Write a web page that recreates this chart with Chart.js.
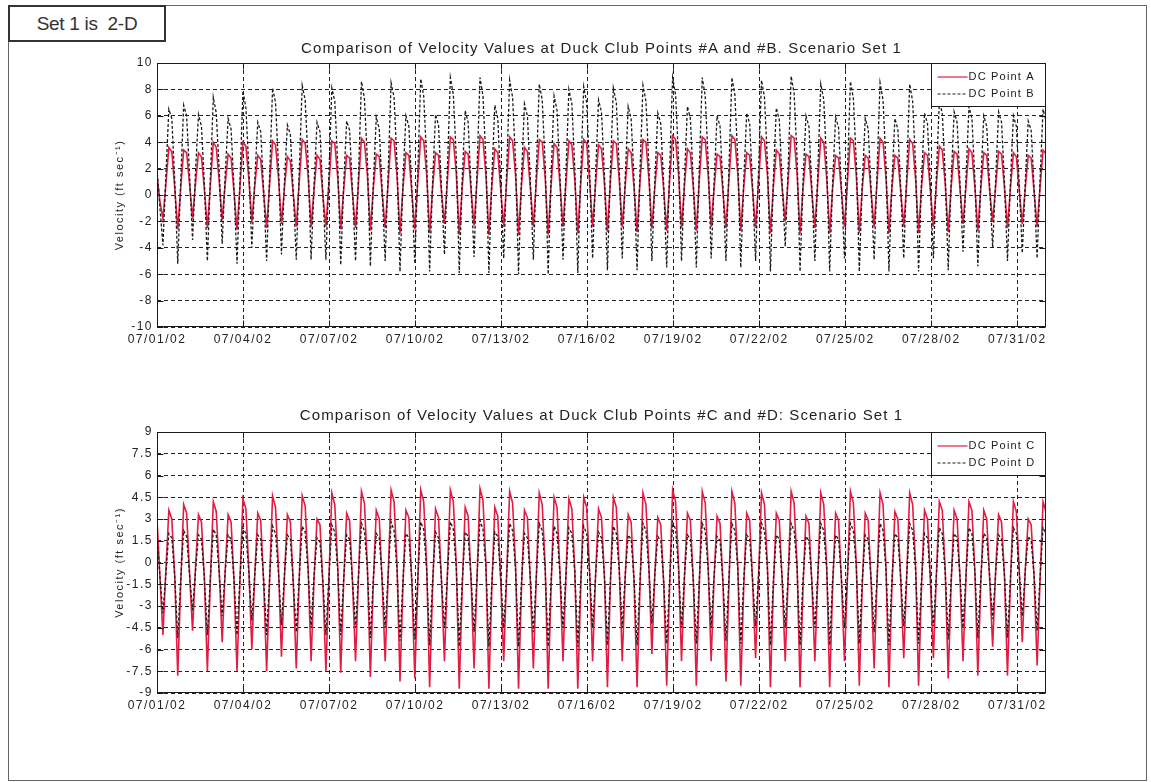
<!DOCTYPE html>
<html><head><meta charset="utf-8">
<script src="https://cdn.jsdelivr.net/npm/chart.js@4.4.1/dist/chart.umd.min.js"></script>
<style>
html,body{margin:0;padding:0;background:#fff;width:1151px;height:782px;overflow:hidden;font-family:"Liberation Sans",Arial,sans-serif;}
#frame{position:absolute;left:8px;top:5px;width:1137px;height:774px;border:1px solid #666;}
#setbox{position:absolute;left:8px;top:5px;width:154px;height:33px;border:2px solid #333;background:#fff;font-size:19px;color:#333;text-align:center;line-height:33px;letter-spacing:-0.3px;}
.title{position:absolute;left:157px;width:889px;text-align:center;font-size:15px;color:#222;letter-spacing:1.1px;white-space:nowrap;}
canvas{position:absolute;left:0;}
</style></head>
<body>
<div id="frame"></div>
<div id="setbox">Set 1 is&nbsp; 2-D</div>
<canvas id="c1" width="1151" height="360" style="top:0px"></canvas>
<canvas id="c2" width="1151" height="400" style="top:370px"></canvas>
<div class="title" style="top:39px">Comparison of Velocity Values at Duck Club Points #A and #B. Scenario Set 1</div>
<div class="title" style="top:406px">Comparison of Velocity Values at Duck Club Points #C and #D: Scenario Set 1</div>
<script>
// ---- data (ft/sec), one sample every 2.48 h from 07/01/02 00:00 ----
const sampleStepHours = 2.48;
const xTickDays = [0, 3, 6, 9, 12, 15, 18, 21, 24, 27, 30];
const xTickLabels = ['07/01/02','07/04/02','07/07/02','07/10/02','07/13/02','07/16/02','07/19/02','07/22/02','07/25/02','07/28/02','07/31/02'];
const seriesLabels = ['DC Point A','DC Point B','DC Point C','DC Point D'];
const yTitle = 'Velocity (ft sec\u207B\u00B9)';

const pointA = [1.5,-0.5,
-1.8,0.8,3.6,3.3,0.5, -2.6,0.5,3.4,3.2,0.8, -1.8,0.9,3.2,2.9,0.4, -2.5,0.7,4.0,3.6,1.0,
-1.9,0.8,3.1,2.8,0.2, -2.6,0.6,4.0,3.7,1.2, -2.0,0.7,3.0,2.7,0.1, -2.5,0.8,4.1,3.8,1.3,
-2.2,0.5,2.9,2.6,0.0, -2.4,1.0,4.2,3.9,1.4, -2.4,0.4,3.0,2.7,-0.1, -2.4,0.8,4.1,3.9,1.3,
-2.6,0.4,3.0,2.8,0.0, -2.5,0.9,4.3,4.0,1.5, -2.7,0.5,3.1,2.9,0.1, -2.5,0.9,4.3,4.1,1.4,
-2.9,0.5,3.2,3.0,0.2, -2.6,1.0,4.4,4.1,1.6, -2.9,0.5,3.2,3.0,0.2, -2.2,1.1,4.4,4.2,1.6,
-3.0,0.6,3.3,3.1,0.3, -2.3,1.1,4.5,4.2,1.5, -3.0,0.7,3.5,3.2,0.4, -2.4,1.0,4.4,4.1,1.5,
-3.0,0.7,3.6,3.3,0.5, -2.4,1.0,4.2,4.0,1.3, -3.0,0.8,3.9,3.6,0.8, -2.4,0.9,4.1,3.8,1.1,
-2.9,0.9,4.2,3.9,1.0, -2.4,0.8,3.8,3.5,0.8, -2.8,1.0,4.1,3.9,1.1, -2.4,0.7,3.5,3.2,0.5,
-2.8,1.0,4.2,4.0,1.2, -2.5,0.6,3.2,3.0,0.4, -2.7,1.1,4.5,4.2,1.6, -2.5,0.7,3.5,3.2,0.5,
-2.7,1.1,4.4,4.2,1.5, -2.4,0.5,3.1,2.9,0.2, -2.5,1.1,4.5,4.2,1.6, -2.7,0.6,3.2,3.0,0.3,
-2.5,1.0,4.4,4.1,1.5, -2.9,0.6,3.4,3.1,0.4, -2.0,1.2,4.5,4.3,1.6, -2.9,0.5,3.1,2.9,0.2,
-2.5,1.0,4.3,4.0,1.3, -2.9,0.5,3.0,2.8,0.2, -2.4,1.0,4.3,4.1,1.4, -2.9,0.5,3.0,2.8,0.1,
-2.4,1.0,4.3,4.0,1.3, -2.9,0.5,3.0,2.8,0.2, -2.4,0.9,4.2,3.9,1.2, -2.9,0.6,3.2,3.0,0.3,
-2.4,0.8,3.7,3.4,0.8, -2.8,0.6,3.3,3.1,0.4, -2.2,0.7,3.5,3.2,0.6, -2.7,0.5,3.2,3.0,0.3,
-2.0,0.6,3.3,3.1,0.5, -2.5,0.5,3.2,2.9,0.3, -2.2,0.5,3.0,2.8,0.2, -2.4,0.6,3.4,3.1,0.5];

const pointB = [2.0,-1.0,
-3.8,1.5,6.5,5.8,1.0, -5.2,1.0,6.8,6.0,1.5, -3.4,1.8,6.1,5.2,0.8, -5.0,1.2,7.4,6.2,1.8,
-3.7,1.5,5.8,5.0,0.5, -5.2,1.0,7.9,6.6,2.0, -4.0,1.2,5.5,4.8,0.3, -5.0,1.5,8.1,7.0,2.2,
-4.5,1.0,5.3,4.6,0.2, -4.9,1.8,8.3,7.2,2.5, -4.9,0.8,5.5,4.8,0.0, -4.9,1.5,8.1,7.1,2.3,
-5.3,0.8,5.6,4.9,0.2, -5.0,1.6,8.6,7.3,2.6, -5.4,0.9,5.9,5.0,0.3, -5.0,1.7,8.5,7.4,2.4,
-5.8,1.0,6.0,5.2,0.4, -5.2,1.8,8.8,7.5,2.7, -5.8,1.0,6.1,5.3,0.5, -4.5,2.0,8.9,7.6,2.8,
-5.9,1.2,6.4,5.5,0.6, -4.7,2.0,8.9,7.5,2.6, -5.9,1.3,6.8,5.8,0.8, -4.8,1.9,8.7,7.4,2.5,
-6.0,1.3,6.9,6.0,1.0, -4.9,1.8,8.4,7.2,2.3, -6.0,1.5,7.5,6.4,1.4, -4.9,1.7,8.0,6.9,2.0,
-5.9,1.6,8.2,7.0,1.8, -4.8,1.5,7.2,6.3,1.5, -5.7,1.8,8.1,7.0,2.0, -4.8,1.3,6.7,5.8,1.0,
-5.7,1.9,8.3,7.1,2.2, -5.0,1.1,6.2,5.4,0.7, -5.5,2.0,8.9,7.6,2.7, -5.0,1.3,6.7,5.8,0.9,
-5.5,2.0,8.9,7.5,2.6, -4.8,1.0,6.0,5.2,0.5, -5.0,2.0,8.9,7.6,2.7, -5.5,1.1,6.2,5.4,0.6,
-5.0,1.9,8.7,7.4,2.5, -5.8,1.2,6.6,5.7,0.8, -3.9,2.1,9.0,7.7,2.8, -5.8,1.0,6.0,5.2,0.4,
-5.0,1.8,8.4,7.2,2.3, -5.8,1.0,5.9,5.1,0.4, -4.8,1.8,8.6,7.3,2.4, -5.8,0.9,5.8,5.0,0.3,
-4.9,1.8,8.5,7.2,2.3, -5.8,0.9,5.8,5.0,0.4, -4.8,1.7,8.4,7.1,2.2, -5.8,1.1,6.2,5.4,0.6,
-4.8,1.4,7.1,6.2,1.5, -5.7,1.1,6.3,5.5,0.8, -4.3,1.3,6.7,5.8,1.2, -5.4,1.0,6.0,5.2,0.6,
-4.0,1.1,6.3,5.5,0.9, -5.0,1.0,6.0,5.2,0.6, -4.4,0.9,5.6,4.9,0.5, -4.8,1.2,6.5,5.6,1.0];

const pointC = [3.0,-1.0,
-5.0,-0.5,3.6,3.0,-1.0, -7.8,-1.5,4.0,3.4,-0.8, -4.7,-0.3,3.3,2.8,-1.2, -7.5,-1.3,4.2,3.5,-0.6,
-5.5,-0.6,3.3,2.8,-1.3, -7.5,-1.2,4.4,3.7,-0.5, -6.0,-0.8,3.4,2.9,-1.4, -7.5,-1.2,4.6,3.8,-0.4,
-6.5,-1.0,3.3,2.8,-1.5, -7.3,-1.1,4.6,3.9,-0.4, -6.8,-1.1,3.0,2.6,-1.6, -7.5,-1.2,4.8,4.0,-0.3,
-7.6,-1.3,3.4,2.9,-1.5, -6.8,-1.0,4.9,4.1,-0.3, -7.9,-1.4,3.6,3.0,-1.4, -6.8,-0.9,5.0,4.2,-0.2,
-8.2,-1.6,3.6,3.1,-1.4, -8.0,-1.4,5.0,4.2,-0.2, -8.6,-1.8,3.7,3.1,-1.3, -6.8,-0.8,5.0,4.2,-0.2,
-8.7,-1.8,3.8,3.2,-1.3, -7.3,-1.0,5.1,4.3,-0.1, -8.7,-1.8,3.8,3.2,-1.2, -6.8,-0.8,4.9,4.1,-0.2,
-8.7,-1.8,3.6,3.1,-1.3, -7.3,-1.0,4.8,4.0,-0.3, -8.7,-1.7,4.5,3.8,-0.8, -6.8,-0.9,4.4,3.7,-0.6,
-8.7,-1.7,4.5,3.8,-0.7, -6.8,-0.9,3.7,3.1,-1.0, -8.6,-1.6,4.5,3.8,-0.5, -6.8,-1.0,3.3,2.8,-1.4,
-8.6,-1.7,4.8,4.0,-0.3, -6.3,-0.8,3.1,2.6,-1.5, -8.5,-1.6,5.0,4.2,-0.2, -6.8,-1.0,3.4,2.9,-1.4,
-8.5,-1.6,4.9,4.1,-0.3, -6.8,-1.0,3.2,2.7,-1.5, -8.2,-1.5,4.9,4.1,-0.3, -8.5,-1.7,3.4,2.9,-1.4,
-6.6,-0.9,4.8,4.0,-0.3, -8.6,-1.7,3.4,2.9,-1.4, -6.8,-1.0,4.9,4.1,-0.2, -8.6,-1.7,3.2,2.7,-1.5,
-6.8,-1.0,4.8,4.0,-0.3, -8.6,-1.7,3.4,2.9,-1.4, -6.8,-1.0,4.9,4.1,-0.2, -8.5,-1.6,3.4,2.9,-1.4,
-7.3,-1.2,4.8,4.0,-0.3, -8.6,-1.7,3.5,3.0,-1.3, -6.6,-0.9,4.8,4.0,-0.3, -8.5,-1.6,3.6,3.0,-1.3,
-6.6,-0.9,4.2,3.6,-0.6, -8.0,-1.5,3.6,3.0,-1.2, -6.8,-1.0,4.2,3.6,-0.6, -7.8,-1.4,3.6,3.0,-1.2,
-5.8,-0.6,3.3,2.8,-1.0, -7.8,-1.4,4.2,3.5,-0.7, -5.5,-0.5,3.0,2.6,-1.1, -7.1,-1.2,4.2,3.5,-0.6];

const pointD = [1.8,-1.0,
-3.5,-0.8,2.0,1.7,-1.0, -5.2,-1.2,2.2,1.8,-0.9, -3.3,-0.6,1.9,1.6,-1.1, -5.0,-1.1,2.3,1.9,-0.8,
-3.7,-0.7,1.9,1.6,-1.2, -5.0,-1.1,2.4,2.0,-0.7, -4.0,-0.8,1.9,1.6,-1.2, -5.0,-1.1,2.5,2.0,-0.7,
-4.3,-0.9,1.9,1.6,-1.3, -4.8,-1.0,2.5,2.1,-0.6, -4.5,-0.9,1.7,1.4,-1.3, -5.0,-1.1,2.6,2.1,-0.6,
-5.0,-1.1,1.9,1.6,-1.3, -4.5,-0.9,2.7,2.2,-0.5, -5.2,-1.1,2.0,1.7,-1.2, -4.5,-0.9,2.8,2.2,-0.5,
-5.4,-1.2,2.0,1.7,-1.2, -5.3,-1.1,2.8,2.3,-0.5, -5.7,-1.3,2.1,1.7,-1.2, -4.5,-0.9,2.8,2.3,-0.4,
-5.8,-1.3,2.1,1.8,-1.1, -4.8,-1.0,2.9,2.3,-0.4, -5.8,-1.3,2.1,1.8,-1.1, -4.5,-0.9,2.7,2.2,-0.5,
-5.8,-1.3,2.0,1.7,-1.1, -4.8,-1.0,2.7,2.2,-0.5, -5.8,-1.2,2.5,2.0,-0.8, -4.5,-0.9,2.4,2.0,-0.7,
-5.8,-1.2,2.5,2.0,-0.8, -4.5,-0.9,2.1,1.7,-1.0, -5.7,-1.2,2.5,2.0,-0.6, -4.5,-0.9,1.9,1.6,-1.2,
-5.7,-1.2,2.7,2.2,-0.5, -4.2,-0.8,1.8,1.5,-1.3, -5.6,-1.2,2.8,2.3,-0.4, -4.5,-0.9,1.9,1.6,-1.2,
-5.6,-1.2,2.7,2.2,-0.5, -4.5,-0.9,1.8,1.5,-1.3, -5.4,-1.1,2.7,2.2,-0.5, -5.6,-1.2,1.9,1.6,-1.2,
-4.4,-0.9,2.7,2.2,-0.5, -5.7,-1.2,1.9,1.6,-1.2, -4.5,-0.9,2.7,2.2,-0.4, -5.7,-1.2,1.8,1.5,-1.3,
-4.5,-0.9,2.7,2.2,-0.5, -5.7,-1.2,1.9,1.6,-1.2, -4.5,-0.9,2.7,2.2,-0.4, -5.6,-1.2,1.9,1.6,-1.2,
-4.8,-1.0,2.7,2.2,-0.5, -5.7,-1.2,2.0,1.7,-1.1, -4.4,-0.9,2.7,2.2,-0.5, -5.6,-1.2,2.0,1.7,-1.1,
-4.4,-0.9,2.4,2.0,-0.7, -5.3,-1.1,2.0,1.7,-1.0, -4.5,-0.9,2.4,2.0,-0.7, -5.2,-1.1,2.0,1.7,-1.0,
-3.9,-0.7,1.9,1.6,-0.9, -5.2,-1.1,2.4,2.0,-0.7, -3.7,-0.6,1.8,1.5,-0.9, -4.7,-1.0,2.4,2.0,-0.6];

// ---- rendering ----
const RED = 'rgb(226,28,66)';
const INK = '#1a1a1a';
const FONT = '"Liberation Sans", Arial, sans-serif';

function toPoints(vals) {
  return vals.map((v, i) => ({ x: i * sampleStepHours / 24, y: v }));
}

const framePlugin = {
  id: 'frameBox',
  beforeDraw(chart) { chart.ctx.letterSpacing = '1.5px'; },
  afterDraw(chart) {
    const { ctx, chartArea: a, scales } = chart;
    ctx.save();
    ctx.letterSpacing = '0px';
    ctx.strokeStyle = INK;
    ctx.lineWidth = 1;
    ctx.setLineDash([]);
    const L = Math.round(a.left) + 0.5, R = Math.round(a.right) - 0.5;
    const T = Math.round(a.top) + 0.5, B = Math.round(a.bottom) - 0.5;
    ctx.strokeRect(L, T, R - L, B - T);
    ctx.beginPath();
    scales.x.ticks.forEach(t => {
      const px = Math.round(scales.x.getPixelForValue(t.value)) + 0.5;
      ctx.moveTo(px, T); ctx.lineTo(px, T + 6);
      ctx.moveTo(px, B); ctx.lineTo(px, B - 6);
    });
    scales.y.ticks.forEach(t => {
      const py = Math.round(scales.y.getPixelForValue(t.value)) + 0.5;
      ctx.moveTo(L, py); ctx.lineTo(L + 6, py);
      ctx.moveTo(R, py); ctx.lineTo(R - 6, py);
    });
    ctx.stroke();
    // legend box, inside upper-right corner
    const order = chart.options.plugins.insideLegend.order;
    const w = 114, h = 43;
    const x0 = R - w, y0 = T;
    ctx.fillStyle = '#fff';
    ctx.fillRect(x0, y0, w, h);
    ctx.strokeRect(x0, y0, w, h);
    ctx.font = '11px ' + FONT;
    ctx.letterSpacing = '1.2px';
    ctx.textBaseline = 'middle';
    order.forEach((di, k) => {
      const ds = chart.data.datasets[di];
      const yy = y0 + 13 + k * 17 + 0.5;
      ctx.beginPath();
      ctx.strokeStyle = ds.borderColor;
      ctx.lineWidth = 1.2;
      ctx.setLineDash(ds.borderDash || []);
      ctx.moveTo(x0 + 6, yy); ctx.lineTo(x0 + 36, yy);
      ctx.stroke();
      ctx.setLineDash([]);
      ctx.fillStyle = INK;
      ctx.fillText(ds.label, x0 + 37, yy);
    });
    ctx.restore();
  }
};

function makeChart(id, dsDefs, yMin, yMax, yStep, pad) {
  return new Chart(document.getElementById(id), {
    type: 'line',
    data: { datasets: dsDefs },
    options: {
      responsive: false,
      animation: false,
      events: [],
      layout: { padding: pad },
      elements: { point: { radius: 0 }, line: { tension: 0 } },
      plugins: {
        legend: { display: false },
        title: { display: false },
        tooltip: { enabled: false },
        insideLegend: { order: [0, 1] }
      },
      scales: {
        x: {
          type: 'linear', min: 0, max: 31,
          afterBuildTicks: s => { s.ticks = xTickDays.map(v => ({ value: v })); },
          afterFit: s => { s.height = 22; },
          ticks: {
            autoSkip: false, maxRotation: 0, padding: 5, color: '#222',
            font: { family: FONT, size: 12 },
            callback: v => xTickLabels[xTickDays.indexOf(v)]
          },
          grid: { color: '#222', lineWidth: 1, drawTicks: false },
          border: { display: false, dash: [4, 3] }
        },
        y: {
          min: yMin, max: yMax,
          afterFit: s => { s.width = 44; },
          ticks: { stepSize: yStep, padding: 4, color: '#222', font: { family: FONT, size: 12 } },
          grid: { color: '#222', lineWidth: 1, drawTicks: false },
          border: { display: false, dash: [4, 3] },
          title: { display: true, text: yTitle, color: '#222', font: { family: FONT, size: 11 }, padding: { top: 0, bottom: 1 } }
        }
      }
    },
    plugins: [framePlugin]
  });
}

makeChart('c1', [
  { label: seriesLabels[0], data: toPoints(pointA), borderColor: RED, borderWidth: 1.6, order: 2 },
  { label: seriesLabels[1], data: toPoints(pointB), borderColor: INK, borderWidth: 1.3, borderDash: [3, 2], order: 1 }
], -10, 10, 2, { left: 113, right: 105, top: 63, bottom: 11 });

makeChart('c2', [
  { label: seriesLabels[2], data: toPoints(pointC), borderColor: RED, borderWidth: 1.6, order: 2 },
  { label: seriesLabels[3], data: toPoints(pointD), borderColor: INK, borderWidth: 1.3, borderDash: [3, 2], order: 1 }
], -9, 9, 1.5, { left: 113, right: 105, top: 62, bottom: 55 });
</script>
</body></html>
